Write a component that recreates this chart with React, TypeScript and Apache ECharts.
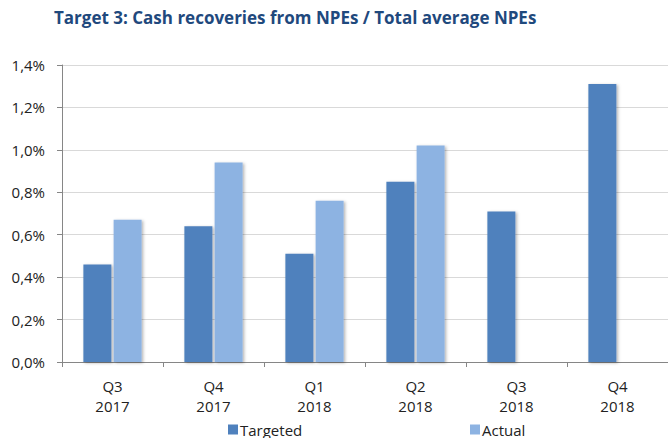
import React, { useEffect, useRef } from "react";
import * as echarts from "echarts";

const categories = ["Q3\n2017", "Q4\n2017", "Q1\n2018", "Q2\n2018", "Q3\n2018", "Q4\n2018"];
const targeted = [0.46, 0.64, 0.51, 0.85, 0.71, 1.31];
const actual: (number | null)[] = [0.67, 0.94, 0.76, 1.02, null, null];
const yTicks = { min: 0, max: 1.4, interval: 0.2 };
const titleText = "Target 3: Cash recoveries from NPEs / Total average NPEs";

const FONT = "'Open Sans', 'Noto Sans', sans-serif";
const TEXT = "#222222";

export default function App() {
  const ref = useRef<HTMLDivElement>(null);
  useEffect(() => {
    if (!ref.current) return;
    const chart = echarts.init(ref.current, null, { renderer: "svg" });
    const shadow = {
      shadowColor: "rgba(0,0,0,0.3)",
      shadowBlur: 3,
      shadowOffsetX: 1.5,
      shadowOffsetY: 1,
    };
    const legendBase = {
      top: 422,
      icon: "rect",
      itemWidth: 10,
      itemHeight: 10,
      itemGap: 0,
      padding: 0,
      textStyle: { fontFamily: FONT, fontSize: 15, color: TEXT, padding: [0, 0, 0, -3] },
    };
    chart.setOption({
      animation: false,
      backgroundColor: "#ffffff",
      title: {
        text: titleText,
        left: 54,
        top: 9,
        padding: 0,
        textStyle: { fontFamily: FONT, fontSize: 17, fontWeight: "bold", color: "#1F497D" },
      },
      legend: [
        { ...legendBase, data: ["Targeted"], left: 228 },
        { ...legendBase, data: ["Actual"], left: 470 },
      ],
      grid: { left: 62, right: -9, top: 65, bottom: 76, containLabel: false },
      xAxis: {
        type: "category",
        data: categories,
        axisLine: { show: true, lineStyle: { color: "#868686", width: 1 } },
        axisTick: { show: true, length: 5, alignWithLabel: false, lineStyle: { color: "#868686" } },
        axisLabel: {
          fontFamily: FONT,
          fontSize: 15,
          color: TEXT,
          lineHeight: 20,
          margin: 14,
          interval: 0,
        },
      },
      yAxis: {
        type: "value",
        min: yTicks.min,
        max: yTicks.max,
        interval: yTicks.interval,
        axisLine: { show: true, lineStyle: { color: "#868686", width: 1 } },
        axisTick: { show: true, length: 5, lineStyle: { color: "#868686" } },
        splitLine: { show: true, lineStyle: { color: "#D9D9D9", width: 1 } },
        axisLabel: {
          fontFamily: FONT,
          fontSize: 15,
          color: TEXT,
          margin: 17,
          formatter: (v: number) => v.toFixed(1).replace(".", ",") + "%",
        },
      },
      series: [
        {
          name: "Targeted",
          type: "bar",
          data: targeted,
          barWidth: 28,
          barGap: "8%",
          itemStyle: { color: "#4F81BD", ...shadow },
        },
        {
          name: "Actual",
          type: "bar",
          data: actual,
          barWidth: 28,
          itemStyle: { color: "#8DB3E2", ...shadow },
        },
      ],
    });
    return () => chart.dispose();
  }, []);
  return (
    <div
      ref={ref}
      style={{ position: "absolute", left: 0, top: 0, width: 668, height: 438, overflow: "hidden" }}
    />
  );
}
